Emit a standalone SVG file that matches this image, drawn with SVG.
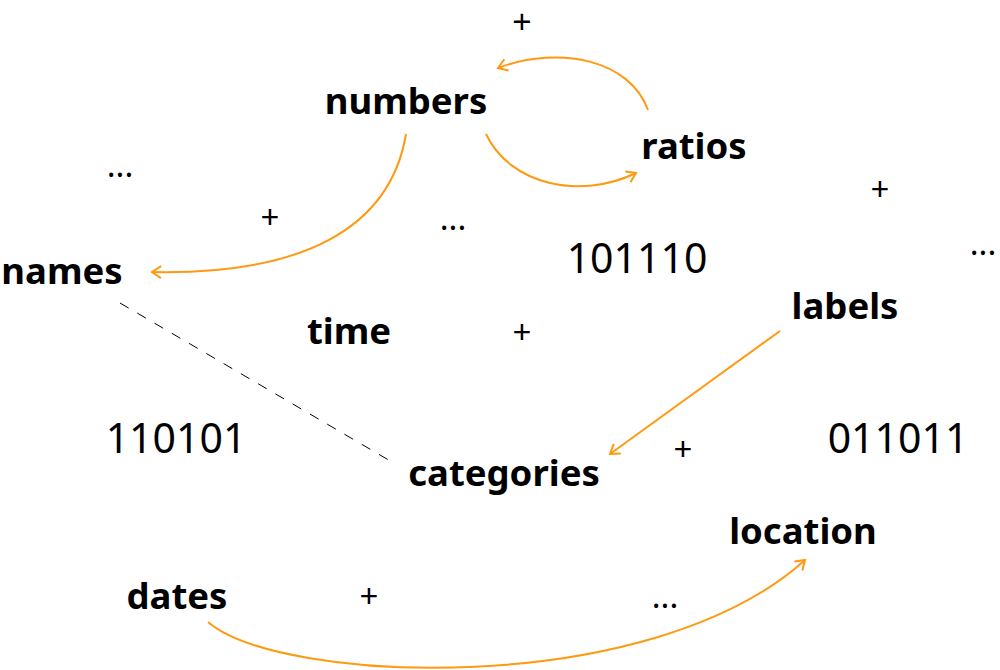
<svg xmlns="http://www.w3.org/2000/svg" width="1000" height="670" viewBox="0 0 1000 670">
<defs>
<marker id="arr" markerWidth="14" markerHeight="14" refX="11" refY="7" orient="auto" markerUnits="userSpaceOnUse">
<path d="M2,1 L11,7 L2,13" fill="none" stroke="#ff9912" stroke-width="2"/>
</marker>
<style>
.n{font-family:"Noto Sans","Liberation Sans",sans-serif;font-weight:bold;font-size:36.5px;fill:#000;text-anchor:middle}
.b{font-family:"Noto Sans","Liberation Sans",sans-serif;font-size:41px;fill:#000;text-anchor:middle}
.s{font-family:"Noto Sans","Liberation Sans",sans-serif;font-size:33px;fill:#000;text-anchor:middle}
.t{font-family:"Liberation Sans",sans-serif;font-size:33px;fill:#000;text-anchor:middle}
.e{fill:none;stroke:#ff9912;stroke-width:2;marker-end:url(#arr)}
.d{fill:none;stroke:#000;stroke-width:1;stroke-dasharray:10,10}
</style>
</defs>
<rect width="1000" height="670" fill="#fff"/>
<g id="connectors">
<path class="e" d="M648,110 C630,60 560,45 498,68"/>
<path class="e" d="M486,134 C510,185 580,200 636,173"/>
<path class="e" d="M406,134 C390,230 300,275 152,272"/>
<path class="d" d="M120,303 L392,462"/>
<path class="e" d="M780,331 L610,454"/>
<path class="e" d="M208,622 C280,684 650,700 805,560"/>
</g>
<g id="numbers"><text class="n" x="406" y="114">numbers</text></g>
<g id="ratios"><text class="n" x="694" y="159">ratios</text></g>
<g id="names"><text class="n" x="62" y="284">names</text></g>
<g id="labels"><text class="n" x="845" y="319">labels</text></g>
<g id="time"><text class="n" x="349" y="344">time</text></g>
<g id="categories"><text class="n" x="504" y="486">categories</text></g>
<g id="location"><text class="n" x="803" y="544">location</text></g>
<g id="dates"><text class="n" x="177" y="609">dates</text></g>
<g id="decor">
<text class="b" x="637" y="273">101110</text>
<text class="b" x="176" y="453">110101</text>
<text class="b" x="898" y="453">011011</text>
<text class="t" x="522" y="33">+</text>
<text class="s" x="270" y="229">+</text>
<text class="s" x="880" y="201">+</text>
<text class="s" x="522" y="344">+</text>
<text class="s" x="683" y="461">+</text>
<text class="s" x="369" y="608">+</text>
<text class="s" x="120" y="177">...</text>
<text class="s" x="453" y="230">...</text>
<text class="s" x="983" y="255">...</text>
<text class="s" x="665" y="608">...</text>
</g>
</svg>
